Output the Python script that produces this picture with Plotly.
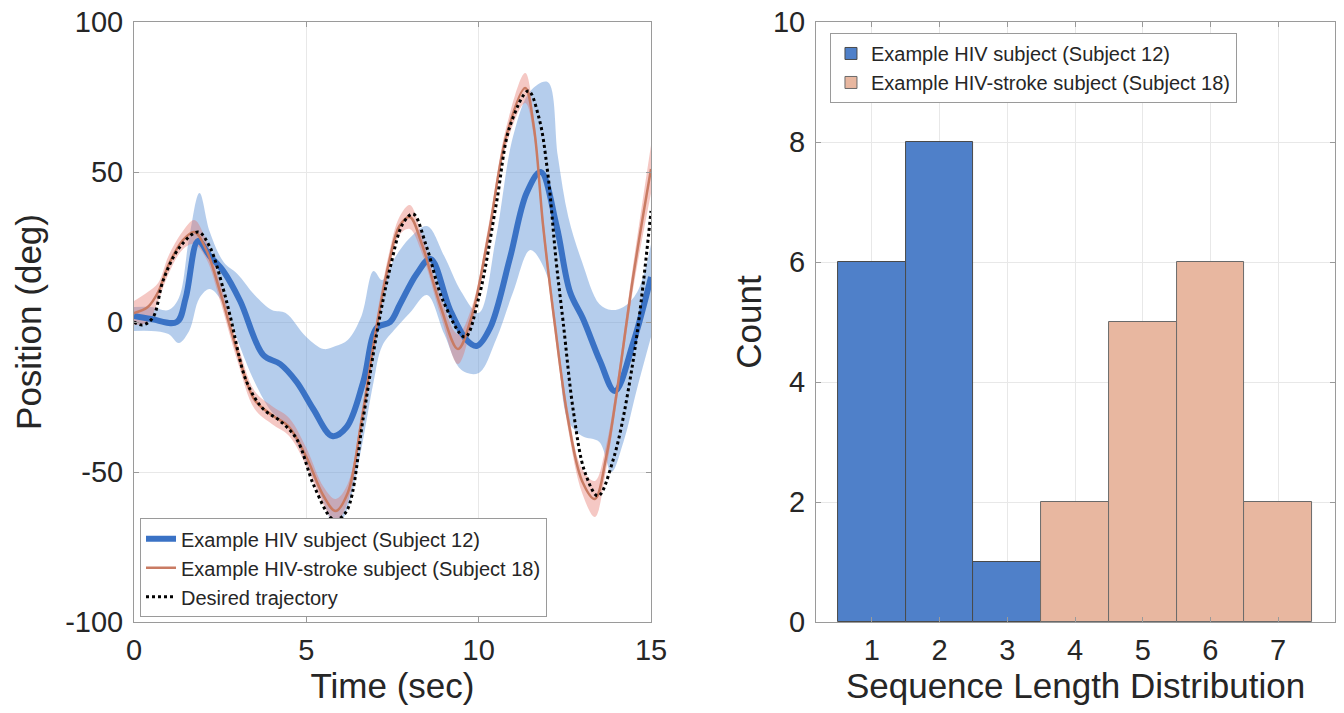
import plotly.graph_objects as go

# ---------------- Left panel data (time in sec, position in deg) ----------------
des_t = [0, 0.25, 0.55, 0.85, 1.33, 1.86, 2.2, 2.59, 2.79, 3.27, 3.75, 4.24, 4.72, 5.2, 5.69,
         5.85, 6.17, 6.65, 7.04, 7.43, 7.81, 8.1, 8.49, 8.97, 9.6, 10.0, 10.52, 10.9, 11.44, 11.75,
         12.0, 12.25, 12.45, 12.75, 13.08, 13.46, 13.9, 14.48, 15.0]
des_pos = [0, -1, 1.5, 14, 25, 30, 25, 11, 2, -20, -29, -33, -39, -54, -65,
           -66, -63, -32, -4, 18, 33, 36, 25, 7, -5, 8, 40, 65, 77, 68,
           50, 20, 0, -30, -50, -58, -46, -13, 37]

red_t = [0, 0.4, 0.7, 1.0, 1.4, 1.75, 2.1, 2.5, 3.0, 3.5, 4.0, 4.5, 5.0, 5.5, 5.85, 6.2, 6.6,
         7.0, 7.4, 7.7, 8.0, 8.35, 8.9, 9.4, 9.8, 10.3, 10.8, 11.35, 11.6, 11.87, 12.2, 12.6,
         13.0, 13.37, 13.7, 14.0, 14.48, 15.0]
red_pos = [3, 5, 10, 19, 27, 30, 24, 10, -10, -26, -31, -35, -45, -58, -63, -57, -33,
           -4, 20, 32, 35, 26, 5, -9, 2, 30, 62, 78, 65, 32, 0, -33,
           -53, -59, -45, -24, 15, 51]
red_sd = [4, 5, 3, 3, 3, 4, 3, 3, 3, 3, 3, 3, 3, 3, 4, 3, 3,
          3, 3, 3, 4, 3, 3, 5, 3, 3, 3, 5, 3, 3, 3, 3,
          4, 6, 4, 3, 4, 8]

blue_t = [0, 0.5, 1.24, 1.5, 1.86, 2.2, 2.59, 3.08, 3.75, 4.24, 4.72, 5.2, 5.75, 6.17, 6.65,
          7.04, 7.43, 7.72, 8.2, 8.6, 9.17, 9.65, 9.94, 10.33, 10.9, 11.39, 11.8, 12.26, 12.65,
          13.03, 13.52, 13.95, 14.48, 15.0]
blue_pos = [2, 1, 0, 8, 27, 22, 17, 7, -11, -14, -20, -29, -38, -35, -20,
            -2, 0, 6, 16, 21, 4, -6, -8, -2, 21, 43, 50, 32, 10,
            1, -13, -23, -7, 15]

band_t = [0, 0.5, 1.0, 1.3, 1.6, 1.9, 2.2, 2.6, 3.0, 3.5, 4.0, 4.4, 5.0, 5.5, 5.85, 6.2, 6.6,
          6.95, 7.2, 7.6, 8.0, 8.5, 9.0, 9.5, 10.0, 10.5, 11.0, 11.5, 12.0, 12.3, 12.6, 13.0,
          13.5, 13.85, 14.2, 14.6, 15.0]
band_lo = [-3, -3, -4, -7, -3, 8, 11, 6, -6, -20, -30, -34, -47, -60, -69, -62, -42,
           -20, -8, -2, 3, 9, -4, -16, -17, -6, 10, 24, 15, -10, -33, -38,
           -40, -50, -40, -22, -5]
band_hi = [5, 5, 4, 8, 28, 43, 30, 20, 16, 9, 4, 3, -5, -9, -8, -6, 2,
           17, 14, 22, 28, 32, 22, 10, 3, 28, 62, 77, 80, 55, 35, 20,
           6, 4, 5, 10, 26]

# ---------------- Right panel data ----------------
hiv_bins = [1, 2, 3]
hiv_counts = [6, 8, 1]
stroke_bins = [4, 5, 6, 7]
stroke_counts = [2, 5, 6, 2]

x_ticks_left = [0, 5, 10, 15]
y_ticks_left = [-100, -50, 0, 50, 100]
y_ticktext_left = ["-100", "-50", "0", "50", "100"]
x_ticks_right = [1, 2, 3, 4, 5, 6, 7]
y_ticks_right = [0, 2, 4, 6, 8, 10]

name_hiv = "Example HIV subject (Subject 12)"
name_stroke = "Example HIV-stroke subject (Subject 18)"

FONT = "Liberation Sans, Arial, Helvetica, sans-serif"
TXT = "#262626"
BLUE_LINE = "#3a72c5"
RED_LINE = "#c97b63"

fig = go.Figure()

# blue band
fig.add_trace(go.Scatter(x=band_t, y=band_lo, mode="lines", line=dict(width=0, shape="spline"),
                         showlegend=False, hoverinfo="skip", xaxis="x", yaxis="y"))
fig.add_trace(go.Scatter(x=band_t, y=band_hi, mode="lines", line=dict(width=0, shape="spline"),
                         fill="tonexty", fillcolor="rgba(100,150,215,0.48)",
                         showlegend=False, hoverinfo="skip", xaxis="x", yaxis="y"))
# red band
red_lo = [p - s for p, s in zip(red_pos, red_sd)]
red_hi = [p + s for p, s in zip(red_pos, red_sd)]
fig.add_trace(go.Scatter(x=red_t, y=red_lo, mode="lines", line=dict(width=0, shape="spline"),
                         showlegend=False, hoverinfo="skip", xaxis="x", yaxis="y"))
fig.add_trace(go.Scatter(x=red_t, y=red_hi, mode="lines", line=dict(width=0, shape="spline"),
                         fill="tonexty", fillcolor="rgba(228,110,100,0.38)",
                         showlegend=False, hoverinfo="skip", xaxis="x", yaxis="y"))
# lines
fig.add_trace(go.Scatter(x=blue_t, y=blue_pos, mode="lines", name=name_hiv,
                         line=dict(color=BLUE_LINE, width=6, shape="spline"),
                         legend="legend", xaxis="x", yaxis="y"))
fig.add_trace(go.Scatter(x=red_t, y=red_pos, mode="lines", name=name_stroke,
                         line=dict(color=RED_LINE, width=2.5, shape="spline"),
                         legend="legend", xaxis="x", yaxis="y"))
fig.add_trace(go.Scatter(x=des_t, y=des_pos, mode="lines", name="Desired trajectory",
                         line=dict(color="black", width=3, dash="dot", shape="spline"),
                         legend="legend", xaxis="x", yaxis="y"))

# histogram bars
fig.add_trace(go.Bar(x=hiv_bins, y=hiv_counts, width=1, name=name_hiv,
                     marker=dict(color="#4f80c9", line=dict(color="#4a4a4a", width=1)),
                     legend="legend2", xaxis="x2", yaxis="y2"))
fig.add_trace(go.Bar(x=stroke_bins, y=stroke_counts, width=1, name=name_stroke,
                     marker=dict(color="#e8b7a0", line=dict(color="#6a6a6a", width=1)),
                     legend="legend2", xaxis="x2", yaxis="y2"))

axis_common = dict(showline=True, linecolor="#9a9a9a", linewidth=1, mirror="ticks",
                   ticks="inside", ticklen=5, tickcolor="#9a9a9a",
                   showgrid=True, gridcolor="#e8e8e8", gridwidth=1, zeroline=False,
                   ticklabeloverflow="allow", automargin=False,
                   tickfont=dict(family=FONT, size=29, color=TXT))
title_font = dict(family=FONT, size=35, color=TXT)
legend_font = dict(family=FONT, size=20, color=TXT)

fig.update_layout(
    width=1344, height=713,
    margin=dict(l=134, r=9, t=22, b=91, autoexpand=False),
    plot_bgcolor="white", paper_bgcolor="white",
    barmode="overlay", bargap=0,
    font=dict(family=FONT, color=TXT),
    xaxis=dict(domain=[0, 0.4305], range=[0, 15], tickvals=x_ticks_left,
               title=dict(text="Time (sec)", font=title_font, standoff=0),
               anchor="y", ticklabelstandoff=2, **axis_common),
    yaxis=dict(domain=[0, 1], range=[-100, 100], tickvals=y_ticks_left, ticktext=y_ticktext_left,
               title=dict(text="Position (deg)", font=title_font, standoff=12),
               anchor="x", ticklabelstandoff=4, **axis_common),
    xaxis2=dict(domain=[0.5679, 1], range=[0.175, 7.84], tickvals=x_ticks_right,
                title=dict(text="Sequence Length Distribution", font=title_font, standoff=0),
                anchor="y2", ticklabelstandoff=2, **axis_common),
    yaxis2=dict(domain=[0, 1], range=[0, 10], tickvals=y_ticks_right,
                title=dict(text="Count", font=title_font, standoff=0),
                anchor="x2", ticklabelstandoff=4, **axis_common),
    legend=dict(x=0.005, y=0.008, xanchor="left", yanchor="bottom", traceorder="normal",
                bgcolor="white", bordercolor="#9a9a9a", borderwidth=1,
                font=legend_font, tracegroupgap=0),
    legend2=dict(x=0.5795, y=0.9817, xanchor="left", yanchor="top", traceorder="normal",
                 bgcolor="white", bordercolor="#9a9a9a", borderwidth=1,
                 font=legend_font, tracegroupgap=0),
)

fig.write_html(
    "out.html",
    config={"displayModeBar": False},
    post_script="document.body.style.margin='0px';document.body.style.overflow='hidden';",
)
